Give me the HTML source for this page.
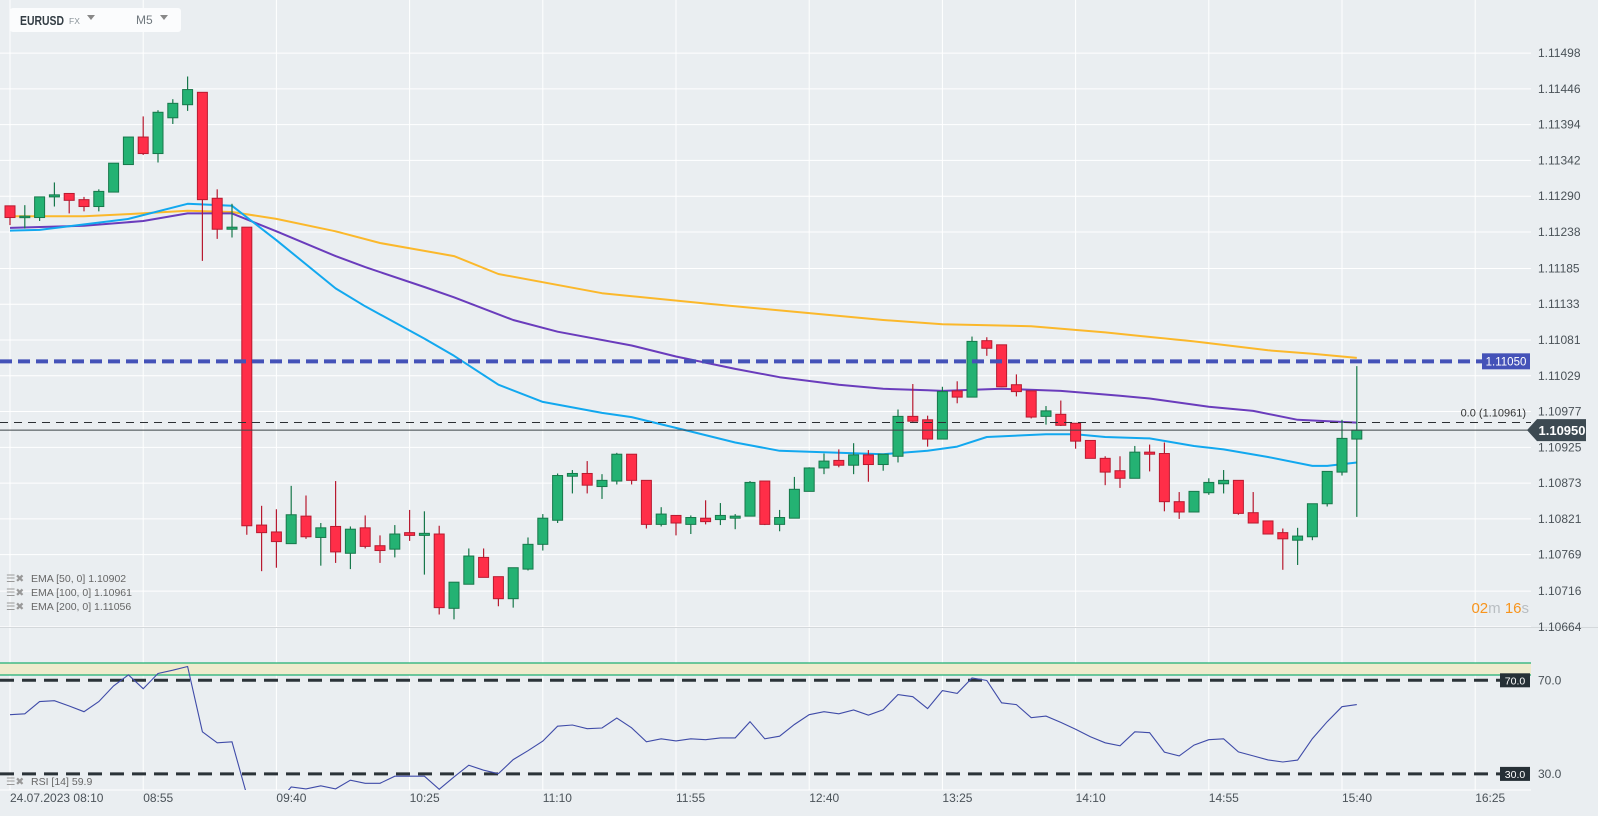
<!DOCTYPE html>
<html><head><meta charset="utf-8">
<style>
html,body{margin:0;padding:0;background:#eaeef1;width:1598px;height:816px;overflow:hidden;font-family:"Liberation Sans",sans-serif;}
svg{display:block}
</style></head>
<body>
<svg id="chart" width="1598" height="816" xmlns="http://www.w3.org/2000/svg">
<rect x="0" y="0" width="1598" height="816" fill="#eaeef1"/>
<defs>
<clipPath id="mainClip"><rect x="0" y="0" width="1531" height="627"/></clipPath>
<clipPath id="rsiClip"><rect x="0" y="628" width="1531" height="162"/></clipPath>
</defs>
<g id="grid"></g>
<g id="ema" clip-path="url(#mainClip)"></g>
<g id="candles" clip-path="url(#mainClip)"></g>
<g id="levels"></g>
<g id="rsi"></g>
<g id="axes"></g>

<g>
<rect x="10" y="8" width="171" height="24" rx="3" fill="#fbfcfd"/>
<text x="20" y="25" font-size="13" font-weight="bold" fill="#333d44" textLength="44" lengthAdjust="spacingAndGlyphs">EURUSD</text>
<text x="69" y="24" font-size="8.5" fill="#8a9399">FX</text>
<path d="M87 15 L95 15 L91 20 Z" fill="#888"/>
<text x="136" y="24" font-size="12" fill="#70787e">M5</text>
<path d="M160 15 L168 15 L164 20 Z" fill="#888"/>
</g>

<g font-size="10.5" fill="#666">
<g><text x="6" y="582" fill="#999">☰✖</text><text x="31" y="582">EMA [50, 0] 1.10902</text></g>
<g><text x="6" y="596" fill="#999">☰✖</text><text x="31" y="596">EMA [100, 0] 1.10961</text></g>
<g><text x="6" y="610" fill="#999">☰✖</text><text x="31" y="610">EMA [200, 0] 1.11056</text></g>
<g><text x="6" y="785" fill="#999">☰✖</text><text x="31" y="785">RSI [14]  59.9</text></g>
</g>

<text x="1529" y="613" font-size="15" text-anchor="end"><tspan fill="#f7941d">02</tspan><tspan fill="#b9bec2">m </tspan><tspan fill="#f7941d">16</tspan><tspan fill="#b9bec2">s</tspan></text>
</svg>

<script>
const opens=[1.11276,1.11259,1.11259,1.11289,1.11294,1.11285,1.11275,1.11296,1.11336,1.11376,
1.11352,1.11404,1.11423,1.11441,1.11287,1.11242,1.11245,1.10812,1.10802,1.10785,
1.10825,1.10794,1.10810,1.10771,1.10808,1.10782,1.10777,1.10801,1.10797,1.10799,
1.10691,1.10726,1.10765,1.10737,1.10705,1.10748,1.10784,1.10819,1.10883,1.10887,
1.10868,1.10876,1.10915,1.10877,1.10813,1.10826,1.10813,1.10822,1.10820,1.10822,
1.10825,1.10876,1.10813,1.10822,1.10861,1.10895,1.10906,1.10899,1.10914,1.10900,
1.10912,1.10970,1.10965,1.10937,1.11007,1.10998,1.11080,1.11074,1.11016,1.11007,
1.10970,1.10973,1.10960,1.10935,1.10909,1.10891,1.10880,1.10918,1.10916,1.10846,
1.10831,1.10859,1.10872,1.10877,1.10830,1.10818,1.10801,1.10790,1.10795,1.10843,
1.10889,1.10937];
const closes=[1.11259,1.11261,1.11289,1.11292,1.11284,1.11275,1.11297,1.11338,1.11376,1.11352,
1.11412,1.11425,1.11445,1.11285,1.11242,1.11245,1.10811,1.10801,1.10788,1.10827,
1.10795,1.10808,1.10773,1.10806,1.10781,1.10775,1.10799,1.10797,1.10800,1.10692,
1.10729,1.10767,1.10736,1.10705,1.10750,1.10784,1.10822,1.10884,1.10887,1.10870,
1.10877,1.10915,1.10877,1.10813,1.10828,1.10815,1.10823,1.10817,1.10826,1.10825,
1.10874,1.10813,1.10823,1.10864,1.10895,1.10905,1.10899,1.10914,1.10900,1.10915,
1.10970,1.10963,1.10937,1.11006,1.10998,1.11079,1.11069,1.11013,1.11006,1.10969,
1.10978,1.10957,1.10934,1.10909,1.10889,1.10880,1.10918,1.10915,1.10846,1.10831,
1.10861,1.10874,1.10877,1.10829,1.10815,1.10799,1.10792,1.10796,1.10843,1.10890,
1.10938,1.10950];
const highs=[1.11276,1.11277,1.11289,1.11310,1.11294,1.11289,1.11300,1.11338,1.11376,1.11406,
1.11415,1.11431,1.11464,1.11441,1.11300,1.11279,1.11245,1.10840,1.10835,1.10869,
1.10855,1.10815,1.10876,1.10810,1.10826,1.10797,1.10812,1.10834,1.10832,1.10811,
1.10729,1.10778,1.10778,1.10737,1.10750,1.10794,1.10828,1.10887,1.10892,1.10905,
1.10886,1.10917,1.10915,1.10877,1.10838,1.10826,1.10826,1.10848,1.10844,1.10828,
1.10876,1.10876,1.10834,1.10882,1.10896,1.10916,1.10922,1.10931,1.10921,1.10915,
1.10980,1.11017,1.10971,1.11013,1.11021,1.11086,1.11085,1.11074,1.11031,1.11007,
1.10985,1.10993,1.10960,1.10935,1.10912,1.10912,1.10927,1.10929,1.10932,1.10860,
1.10861,1.10880,1.10892,1.10877,1.10860,1.10818,1.10807,1.10808,1.10843,1.10890,
1.10965,1.11043];
const lows=[1.11248,1.11243,1.11254,1.11275,1.11265,1.11268,1.11268,1.11296,1.11336,1.11350,
1.11339,1.11395,1.11414,1.11196,1.11228,1.11230,1.10798,1.10745,1.10750,1.10785,
1.10792,1.10753,1.10757,1.10748,1.10778,1.10757,1.10765,1.10789,1.10740,1.10682,
1.10675,1.10726,1.10736,1.10694,1.10692,1.10746,1.10775,1.10815,1.10858,1.10858,
1.10850,1.10871,1.10871,1.10807,1.10810,1.10797,1.10799,1.10813,1.10812,1.10806,
1.10825,1.10812,1.10803,1.10822,1.10861,1.10886,1.10896,1.10886,1.10875,1.10891,
1.10903,1.10962,1.10926,1.10937,1.10989,1.10998,1.11058,1.11013,1.10999,1.10967,
1.10958,1.10956,1.10923,1.10909,1.10870,1.10866,1.10880,1.10890,1.10832,1.10821,
1.10831,1.10856,1.10858,1.10827,1.10815,1.10799,1.10747,1.10754,1.10790,1.10839,
1.10884,1.10824];
const rsiValues=[55.3,55.7,60.9,61.3,59,56.6,60.9,67.6,72.3,66.4,
72.9,74.3,75.9,48,43.3,43.7,21,18,17,24.4,
23.6,24.9,23.6,27.3,26,26,29,29,29,23.4,
28.7,33.7,31.6,30.1,36.1,39.9,44,50.4,50.9,49.3,
49.6,53.9,49.7,43.7,45,44.1,45,44.6,45.4,45.4,
52.3,45,46.1,51.1,55.3,56.6,55.7,57.3,55.1,57.4,
63.9,63,57.9,65.6,64.4,71,69.9,60.4,59.6,54,
54.7,52,49.1,45.9,43.3,42,48,47.6,39.3,37.7,
42.3,44.6,45,39.4,37.7,36,35.1,35.9,45.1,52.3,
58.7,59.6];
const ema50Idx=[0,2,8,12,15,18,22,24,28,30,33,36,40,42,46,49,52,56,59,62,64,66,70,72,74,77,80,82,85,88,89,91];
const ema50Val=[1.11240,1.11241,1.11257,1.11279,1.11276,1.11226,1.11156,1.11130,1.11083,1.11058,1.11016,1.10991,1.10975,1.10969,1.10948,1.10932,1.10920,1.10917,1.10915,1.10920,1.10926,1.10940,1.10944,1.10944,1.10940,1.10938,1.10927,1.10922,1.10911,1.10898,1.10898,1.10903];
const ema100Idx=[0,5,9,12,15,18,22,24,28,30,34,37,42,45,49,52,56,59,62,63,67,71,75,77,81,84,87,91];
const ema100Val=[1.11244,1.11247,1.11254,1.11265,1.11265,1.11239,1.11203,1.11187,1.11158,1.11143,1.11110,1.11093,1.11073,1.11057,1.11039,1.11027,1.11016,1.11010,1.11008,1.11007,1.11010,1.11007,1.11000,1.10996,1.10984,1.10978,1.10965,1.10961];
const ema200Idx=[0,5,8,12,15,18,22,25,30,33,40,47,53,59,63,69,74,80,85,88,91];
const ema200Val=[1.11261,1.11261,1.11264,1.11269,1.11267,1.11257,1.11239,1.11222,1.11203,1.11177,1.11149,1.11134,1.11122,1.11110,1.11104,1.11101,1.11092,1.11079,1.11066,1.11061,1.11055];
const priceTicks=[1.11498,1.11446,1.11394,1.11342,1.11290,1.11238,1.11185,1.11133,1.11081,1.11029,1.10977,1.10925,1.10873,1.10821,1.10769,1.10716,1.10664];
const timeTickIdx=[0,9,18,27,36,45,54,63,72,81,90,99];
const timeTickLabels=["24.07.2023  08:10","08:55","09:40","10:25","11:10","11:55","12:40","13:25","14:10","14:55","15:40","16:25"];
const alertLevel=1.11050, fibLevel=1.10961, lastPrice=1.10950;

const NS="http://www.w3.org/2000/svg";
const X=i=>10+i*14.8;
const Y=p=>340+(1.11081-p)*68800;
const RY=v=>680.3+(70-v)*2.34;
function mk(tag,attrs,parent){const e=document.createElementNS(NS,tag);for(const k in attrs)e.setAttribute(k,attrs[k]);parent.appendChild(e);return e;}
const grid=document.getElementById('grid'),emaG=document.getElementById('ema'),cG=document.getElementById('candles'),lv=document.getElementById('levels'),rsiG=document.getElementById('rsi'),ax=document.getElementById('axes');

priceTicks.forEach(p=>{
 const l=mk('line',{x1:0,x2:1531,y1:Y(p),y2:Y(p),stroke:'#ffffff','stroke-width':1},grid);
 
 
 const t=mk('text',{x:1538,y:Y(p)+4,'font-size':12,fill:'#4a5258'},ax);
 t.textContent=p.toFixed(5);
 
 
});
timeTickIdx.forEach((i,k)=>{
 const l=mk('line',{x1:X(i),x2:X(i),y1:0,y2:790,stroke:'#ffffff','stroke-width':1},grid);
 
 
 const t=mk('text',{x:X(i),y:802,'font-size':12,fill:'#4a5258','xml:space':'preserve'},ax);
 t.textContent=timeTickLabels[k];
 
 
});
const sep=mk('line',{x1:0,x2:1598,y1:627.5,y2:627.5,stroke:'#d4d8db','stroke-width':1},grid);


const bl=mk('line',{x1:0,x2:1531,y1:790,y2:790,stroke:'#ffffff','stroke-width':1},grid);



function emaLine(idx,val,color,name){
 const pts=idx.map((i,k)=>X(i).toFixed(1)+','+Y(val[k]).toFixed(1)).join(' ');
 const pl=mk('polyline',{points:pts,fill:'none',stroke:color,'stroke-width':2,'stroke-linejoin':'round'},emaG);
 
 
}
emaLine(ema200Idx,ema200Val,'#fbb82b','ema-200-line');
emaLine(ema100Idx,ema100Val,'#6a3cbc','ema-100-line');
emaLine(ema50Idx,ema50Val,'#12a8ef','ema-50-line');

opens.forEach((o,i)=>{
 const c=closes[i],up=c>=o;
 const fill=up?'#24b273':'#ff2e48',stroke=up?'#17784b':'#b81a30';
 const g=mk('g',{},cG);
 
 
 mk('line',{x1:X(i),x2:X(i),y1:Y(highs[i]),y2:Y(lows[i]),stroke:stroke,'stroke-width':1.2},g);
 const top=Y(Math.max(o,c)),h=Math.max(Math.abs(Y(o)-Y(c)),1.5);
 mk('rect',{x:X(i)-5,y:top,width:10,height:h,fill:fill,stroke:stroke,'stroke-width':1},g);
});

const fib=mk('line',{x1:0,x2:1531,y1:Y(fibLevel),y2:Y(fibLevel),stroke:'#2b2f33','stroke-width':1,'stroke-dasharray':'8 6'},lv);


const ft=mk('text',{x:1526,y:Y(fibLevel)-6,'font-size':11,fill:'#333','text-anchor':'end'},lv);
ft.textContent='0.0 ('+fibLevel.toFixed(5)+')';


const lp=mk('line',{x1:0,x2:1531,y1:Y(lastPrice),y2:Y(lastPrice),stroke:'#3c4448','stroke-width':1},lv);


const al=mk('line',{x1:0,x2:1482,y1:Y(alertLevel),y2:Y(alertLevel),stroke:'#4452b8','stroke-width':4,'stroke-dasharray':'12 6'},lv);


const ab=mk('rect',{x:1482,y:Y(alertLevel)-8,width:48,height:16,fill:'#4452b8'},lv);


const at=mk('text',{x:1506,y:Y(alertLevel)+4,'font-size':11.5,fill:'#fff','text-anchor':'middle'},lv);
at.textContent=alertLevel.toFixed(5);


const pb=mk('path',{d:`M1527 ${Y(lastPrice)} L1537 ${Y(lastPrice)-11} L1586 ${Y(lastPrice)-11} L1586 ${Y(lastPrice)+11} L1537 ${Y(lastPrice)+11} Z`,fill:'#3d4a52'},lv);


const pt=mk('text',{x:1562,y:Y(lastPrice)+5,'font-size':13,'font-weight':'bold',fill:'#fff','text-anchor':'middle'},lv);
pt.textContent=lastPrice.toFixed(5);



const band=mk('rect',{x:0,y:663,width:1531,height:12,fill:'#efebcd'},rsiG);


[663,675].forEach(y=>{const b=mk('line',{x1:0,x2:1531,y1:y,y2:y,stroke:'#1faf74','stroke-width':1.2},rsiG);
 
 });
[70,30].forEach(v=>{
 const d=mk('line',{x1:0,x2:1500,y1:RY(v),y2:RY(v),stroke:'#2b3338','stroke-width':3,'stroke-dasharray':'14 8'},rsiG);
 
 
 const b=mk('rect',{x:1500,y:RY(v)-7,width:30,height:14,fill:'#263036'},rsiG);
 
 
 const t=mk('text',{x:1515,y:RY(v)+4,'font-size':10.5,fill:'#fff','text-anchor':'middle'},rsiG);
 t.textContent=v.toFixed(1);
 
 
 const t2=mk('text',{x:1538,y:RY(v)+4,'font-size':12,fill:'#4a5258'},ax);
 t2.textContent=v.toFixed(1);
 
 
});
const rpts=rsiValues.map((v,i)=>X(i).toFixed(1)+','+RY(v).toFixed(1)).join(' ');
const rl=mk('polyline',{points:rpts,fill:'none',stroke:'#3f4ba8','stroke-width':1.1,'clip-path':'url(#rsiClip)'},rsiG);


</script>
</body></html>
